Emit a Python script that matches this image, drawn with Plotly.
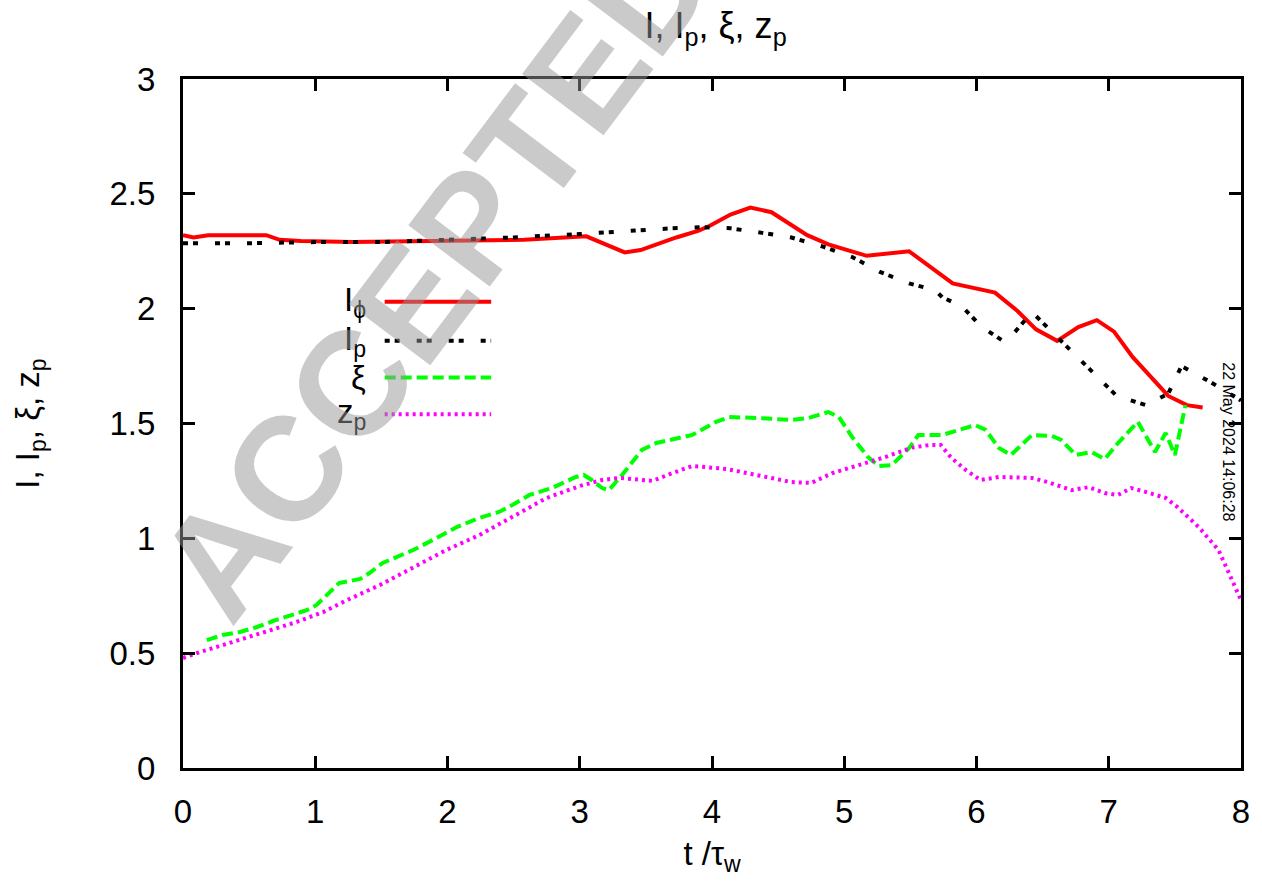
import plotly.graph_objects as go

# ---------------- data ----------------
t_phi = [0, 0.08, 0.19, 0.63, 0.73, 0.89, 1.28, 2.32, 2.58, 3.05, 3.34, 3.46, 3.73, 3.90, 3.98,
         4.14, 4.29, 4.45, 4.72, 4.88, 5.17, 5.49, 5.82, 6.14, 6.31, 6.45, 6.61, 6.77, 6.91,
         7.04, 7.18, 7.45, 7.59, 7.71]
I_phi = [2.32, 2.31, 2.32, 2.32, 2.30, 2.295, 2.29, 2.295, 2.30, 2.315, 2.245, 2.255, 2.31,
         2.34, 2.36, 2.41, 2.44, 2.42, 2.32, 2.28, 2.23, 2.25, 2.11, 2.07, 1.99, 1.91, 1.86,
         1.92, 1.95, 1.90, 1.79, 1.62, 1.58, 1.57]

t_p = [0, 0.5, 1.0, 1.5, 2.0, 2.5, 3.0, 3.4, 3.7, 3.94, 4.14, 4.38, 4.60, 4.84, 5.06, 5.27,
       5.49, 5.69, 5.74, 5.89, 6.04, 6.20, 6.27, 6.42, 6.57, 6.73, 6.88, 7.06, 7.28, 7.45,
       7.55, 7.77, 8.0]
I_p = [2.285, 2.285, 2.29, 2.29, 2.30, 2.31, 2.325, 2.34, 2.35, 2.355, 2.35, 2.33, 2.31,
       2.27, 2.225, 2.16, 2.11, 2.08, 2.05, 2.01, 1.92, 1.86, 1.885, 1.985, 1.90, 1.81, 1.72,
       1.62, 1.58, 1.63, 1.75, 1.68, 1.60]

t_xi = [0.18, 0.30, 0.43, 0.56, 0.68, 0.81, 0.94, 1.01, 1.09, 1.18, 1.34, 1.41, 1.51, 1.74,
        1.89, 2.07, 2.24, 2.39, 2.49, 2.62, 2.79, 2.97, 3.03, 3.09, 3.17, 3.22, 3.32, 3.47,
        3.58, 3.85, 4.03, 4.13, 4.35, 4.60, 4.73, 4.88, 4.96, 5.06, 5.18, 5.26, 5.36, 5.49,
        5.56, 5.74, 5.99, 6.07, 6.17, 6.26, 6.42, 6.57, 6.64, 6.75, 6.87, 6.97, 7.07, 7.22,
        7.35, 7.43, 7.50, 7.58]
xi = [0.557, 0.579, 0.592, 0.614, 0.640, 0.666, 0.688, 0.710, 0.753, 0.805, 0.823, 0.849,
      0.893, 0.949, 0.993, 1.049, 1.089, 1.115, 1.145, 1.189, 1.219, 1.267, 1.276, 1.254,
      1.219, 1.210, 1.276, 1.385, 1.415, 1.45, 1.507, 1.528, 1.524, 1.515, 1.524, 1.55,
      1.528, 1.441, 1.354, 1.315, 1.319, 1.393, 1.45, 1.45, 1.493, 1.472, 1.393, 1.363,
      1.45, 1.446, 1.428, 1.363, 1.376, 1.345, 1.415, 1.507, 1.376, 1.459, 1.363, 1.58]

t_z = [0.0, 0.13, 0.35, 0.60, 0.86, 1.06, 1.24, 1.49, 1.74, 1.99, 2.24, 2.49, 2.75, 3.00,
       3.17, 3.30, 3.55, 3.70, 3.85, 4.11, 4.35, 4.60, 4.75, 4.91, 5.11, 5.31, 5.51, 5.64,
       5.73, 5.81, 5.92, 6.03, 6.17, 6.42, 6.54, 6.72, 6.85, 6.97, 7.07, 7.17, 7.28, 7.43,
       7.52, 7.68, 7.83, 8.0]
z_p = [0.479, 0.505, 0.544, 0.588, 0.636, 0.679, 0.731, 0.797, 0.875, 0.949, 1.014, 1.093,
       1.176, 1.228, 1.254, 1.263, 1.250, 1.284, 1.315, 1.302, 1.276, 1.245, 1.241, 1.284,
       1.319, 1.354, 1.395, 1.406, 1.406, 1.35, 1.297, 1.254, 1.267, 1.263, 1.245, 1.210,
       1.223, 1.197, 1.189, 1.219, 1.202, 1.176, 1.136, 1.049, 0.949, 0.731]

x_ticks = [0, 1, 2, 3, 4, 5, 6, 7, 8]
y_ticks = [0, 0.5, 1, 1.5, 2, 2.5, 3]
y_tick_labels = ["0", "0.5", "1", "1.5", "2", "2.5", "3"]

legend_labels = ["I<sub>ϕ</sub>", "I<sub>p</sub>", "ξ", "z<sub>p</sub>"]
legend_y = [2.03, 1.86, 1.70, 1.54]
legend_x = [1.40, 1.525, 2.33]   # label right edge, sample start, sample end

# ---------------- styles ----------------
FONT = "Liberation Sans, Arial, sans-serif"
FS = 33
styles = [
    dict(color="#ff0000", width=4, dash="solid"),
    dict(color="#000000", width=4, dash="5px,5px,5px,17px"),
    dict(color="#00ff00", width=4, dash="11px,5px"),
    dict(color="#ff00ff", width=4, dash="3px,4px"),
]

fig = go.Figure()
series = [(t_phi, I_phi), (t_p, I_p), (t_xi, xi), (t_z, z_p)]
for (xs, ys), st, name in zip(series, styles, legend_labels):
    fig.add_trace(go.Scatter(x=xs, y=ys, mode="lines", line=st, name=name,
                             showlegend=False, hoverinfo="skip"))

# gnuplot-style legend (text left of sample)
for lab, ly, st in zip(legend_labels, legend_y, styles):
    fig.add_trace(go.Scatter(x=[legend_x[1], legend_x[2]], y=[ly, ly], mode="lines",
                             line=st, showlegend=False, hoverinfo="skip"))
    fig.add_annotation(x=legend_x[0], y=ly, xref="x", yref="y", text=lab,
                       showarrow=False, xanchor="right", yanchor="middle",
                       font=dict(family=FONT, size=FS, color="black"))

axis_common = dict(showline=True, linewidth=3, linecolor="black", mirror="ticks",
                   ticks="inside", ticklen=12, tickwidth=3, tickcolor="black",
                   showgrid=False, zeroline=False,
                   tickfont=dict(family=FONT, size=FS, color="black"))

fig.update_xaxes(range=[0, 8], tickvals=x_ticks, ticktext=[str(v) for v in x_ticks],
                 title=dict(text="t /τ<sub>w</sub>", font=dict(family=FONT, size=FS),
                            standoff=14),
                 ticklabelstandoff=12, **axis_common)
fig.update_yaxes(range=[0, 3], tickvals=y_ticks, ticktext=y_tick_labels,
                 title=dict(text="I, I<sub>p</sub>, ξ, z<sub>p</sub>",
                            font=dict(family=FONT, size=FS), standoff=60),
                 ticklabelstandoff=18, **axis_common)

# watermark
fig.add_annotation(x=0.238, y=0.718, xref="paper", yref="paper",
                   text="<b>ACCEPTED</b>",
                   showarrow=False, textangle=-53, xanchor="center", yanchor="middle",
                   font=dict(family=FONT, size=148, color="rgba(150,150,150,0.5)"))
# timestamp
fig.add_annotation(x=0.9885, y=0.473, xref="paper", yref="paper",
                   text="22 May 2024 14:06:28", showarrow=False, textangle=90,
                   xanchor="center", yanchor="middle",
                   font=dict(family=FONT, size=16, color="black"))

fig.update_layout(
    width=1262, height=883,
    margin=dict(l=183, r=19, t=79, b=115),
    paper_bgcolor="white", plot_bgcolor="white",
    title=dict(text="I, I<sub>p</sub>, ξ, z<sub>p</sub>", x=0.567, xanchor="center",
               y=0.985, yanchor="top", font=dict(family=FONT, size=FS + 3, color="black")),
    font=dict(family=FONT, color="black"),
)

fig.write_html("out.html")
